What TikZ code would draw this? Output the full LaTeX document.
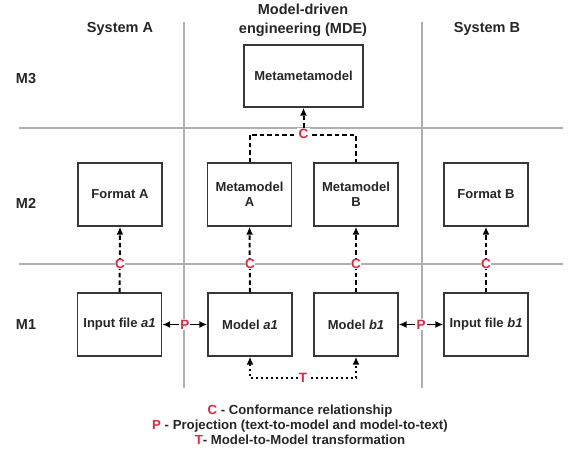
\documentclass[tikz,border=0pt]{standalone}
\usepackage{fontspec}
\setmainfont{Liberation Sans}
\usetikzlibrary{arrows.meta}
\definecolor{gridgray}{RGB}{175,175,175}
\definecolor{boxline}{RGB}{55,55,55}
\definecolor{cred}{RGB}{220,40,65}
\tikzset{
  grid line/.style={draw=gridgray, line width=2.4pt},
  box/.style={draw=boxline, line width=1.4pt, minimum width=84pt, minimum height=63pt, inner sep=2pt, align=center, font=\fontsize{13}{15.5}\selectfont\bfseries, text=black!85},
  lbl/.style={font=\fontsize{14.5}{19}\selectfont\bfseries, align=center, text=black!85},
  conf/.style={draw=black, line width=2pt, dash pattern=on 4.5pt off 3pt, -{Latex[length=8pt,width=7pt]}},
  confline/.style={draw=black, line width=2pt, dash pattern=on 4.5pt off 3pt},
  proj/.style={draw=black, line width=1.6pt, {Latex[length=8pt,width=7pt]}-{Latex[length=8pt,width=7pt]}},
  trans/.style={draw=black, line width=2.2pt, dash pattern=on 2pt off 3pt, {Latex[length=8pt,width=7pt]}-{Latex[length=8pt,width=7pt]}},
  redlbl/.style={text=cred, font=\fontsize{13.5}{13.5}\selectfont\bfseries, fill=white, inner sep=0.3pt},
  redlblw/.style={redlbl, inner sep=1.2pt}
}
\begin{document}
\begin{tikzpicture}[x=1pt, y=-1pt]
\useasboundingbox (0,0) rectangle (569,453);
% grid
\draw[grid line] (19,128) -- (563,128);
\draw[grid line] (19,264) -- (563,264);
\draw[grid line] (184,22) -- (184,388);
\draw[grid line] (422,22) -- (422,388);
% titles
\node[lbl] (tA) at (120,29) {System A};
\node[lbl] (tM) at (303,20) {Model-driven\\engineering (MDE)};
\node[lbl] (tB) at (487,29) {System B};
\node[lbl] (m3) at (26,79) {M3};
\node[lbl] (m2) at (26,203) {M2};
\node[lbl] (m1) at (26,325) {M1};
% boxes
\node[box, minimum width=119pt, minimum height=62pt] (mmm) at (303.5,76) {Metametamodel};
\node[box] (fmtA) at (120,194.5) {Format A};
\node[box] (mmA) at (249.5,194.5) {Metamodel\\A};
\node[box] (mmB) at (356,194.5) {Metamodel\\B};
\node[box] (fmtB) at (486,194.5) {Format B};
\node[box] (inA) at (119.5,324.5) {Input file \textit{a1}};
\node[box] (modA) at (250,324.5) {Model \textit{a1}};
\node[box] (modB) at (356,324.5) {Model \textit{b1}};
\node[box] (inB) at (486,324.5) {Input file \textit{b1}};
% conformance
\draw[conf] (inA.north) -- (fmtA.south);
\draw[conf] (modA.north) -- (mmA.south);
\draw[conf] (modB.north) -- (mmB.south);
\draw[conf] (inB.north) -- (fmtB.south);
\coordinate (cA) at (249.5,135);
\coordinate (cB) at (356,135);
\coordinate (cM) at (303.5,135);
\draw[confline] (mmA.north) -- (cA) -- (cB) -- (mmB.north);
\draw[conf] (cM) -- (mmm.south);
\node[redlbl] (c1) at (120,264) {C};
\node[redlbl] (c2) at (250,264) {C};
\node[redlbl] (c3) at (356,264) {C};
\node[redlbl] (c4) at (486,264) {C};
\node[redlblw] (c5) at (303.5,134) {C};
% projection
\draw[proj] (inA.east) -- (modA.west) node[redlblw, midway] (p1) {P};
\draw[proj] (modB.east) -- (inB.west) node[redlblw, midway] (p2) {P};
% transformation
\coordinate (tLa) at (250,378);
\coordinate (tLb) at (356,378);
\draw[trans] (modA.south) -- (tLa) -- (tLb) -- (modB.south);
\node[redlblw] (tt) at (303,378) {T};
% legend
\node[font=\fontsize{13.2}{15}\selectfont\bfseries, align=center, text=black!85] (leg) at (300,425)
  {\textcolor{cred}{C} - Conformance relationship\\
   \textcolor{cred}{P} - Projection (text-to-model and model-to-text)\\
   \textcolor{cred}{T}- Model-to-Model transformation};
\end{tikzpicture}
\end{document}
